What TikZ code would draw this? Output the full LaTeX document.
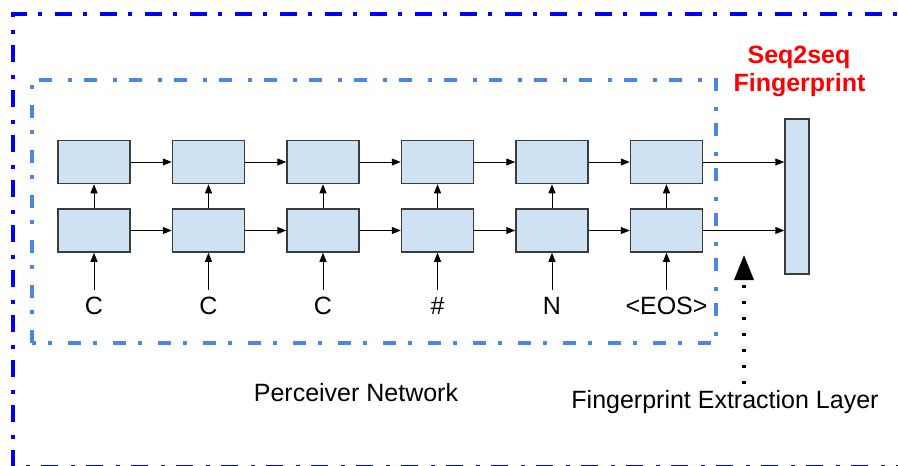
\documentclass[tikz,border=0pt]{standalone}
\usepackage{fontspec}
\setmainfont{Liberation Sans}
\usetikzlibrary{arrows.meta}
\definecolor{outerblue}{RGB}{0,0,255}
\definecolor{innerblue}{RGB}{74,134,232}
\definecolor{cellfill}{RGB}{207,226,243}
\definecolor{cellborder}{RGB}{60,60,60}
\begin{document}
\begin{tikzpicture}[x=1pt,y=-1pt,
  cell/.style={draw=cellborder, fill=cellfill, line width=1.5pt, minimum width=72pt, minimum height=43pt, inner sep=0pt},
  conn/.style={-{Triangle[length=9pt,width=7pt]}, line width=1pt},
  lbl/.style={font=\fontsize{25}{30}\selectfont, inner xsep=0pt, inner ysep=6pt, text height=18pt, text depth=5pt, anchor=base},
  txt/.style={font=\fontsize{25}{30}\selectfont, inner sep=0pt, anchor=base},
  redtxt/.style={font=\fontsize{25}{30}\selectfont\bfseries, text=red, inner sep=0pt, anchor=base},
]
\useasboundingbox (0,0) rectangle (898,466);
\begin{scope}
\clip (0,0) rectangle (898,466);
% outer frame
\draw[outerblue, line width=3.5pt, dash pattern=on 17pt off 11pt on 4pt off 13pt] (13,467) -- (13,14) -- (910,14) -- (910,467) -- cycle;
\end{scope}
% inner frame
\draw[innerblue, line width=3.2pt, dash pattern=on 13pt off 16pt on 4pt off 12pt] (32,343) -- (32,80) -- (716,80) -- (716,343) -- cycle;

% cells
\foreach \i/\x in {1/94,2/208.5,3/323,4/437.5,5/552,6/666.5}{
  \node[cell] (t\i) at (\x,162) {};
  \node[cell] (b\i) at (\x,230.5) {};
}
% labels
\node[lbl] (l1) at (94,314) {C};
\node[lbl] (l2) at (208.5,314) {C};
\node[lbl] (l3) at (323,314) {C};
\node[lbl] (l4) at (437.5,314) {\#};
\node[lbl] (l5) at (552,314) {N};
\node[lbl] (l6) at (666.5,314) {<EOS>};

\foreach \i in {1,...,6}{
  \draw[conn] (l\i.north) -- (b\i.south);
  \draw[conn] (b\i.north) -- (t\i.south);
}
\foreach \i/\j in {1/2,2/3,3/4,4/5,5/6}{
  \draw[conn] (t\i.east) -- (t\j.west);
  \draw[conn] (b\i.east) -- (b\j.west);
}

% fingerprint bar
\node[cell, minimum width=24pt, minimum height=155pt] (fp) at (797,196.5) {};
\draw[conn] (t6.east) -- (t6.east -| fp.west);
\draw[conn] (b6.east) -- (b6.east -| fp.west);

% texts
\node[redtxt] (s1) at (799,63) {Seq2seq};
\node[redtxt] (s2) at (799.5,91) {Fingerprint};
\node[txt] (pn) at (356,401) {Perceiver Network};
\node[txt] (fe) at (725,408) {Fingerprint Extraction Layer};

% dotted arrow
\coordinate (dstart) at (744,384);
\coordinate (dend) at (744,255);
\draw[line width=3.5pt, dash pattern=on 3.5pt off 12.5pt, -{Triangle[length=25pt,width=19pt]}] (dstart) -- (dend);
\end{tikzpicture}
\end{document}
